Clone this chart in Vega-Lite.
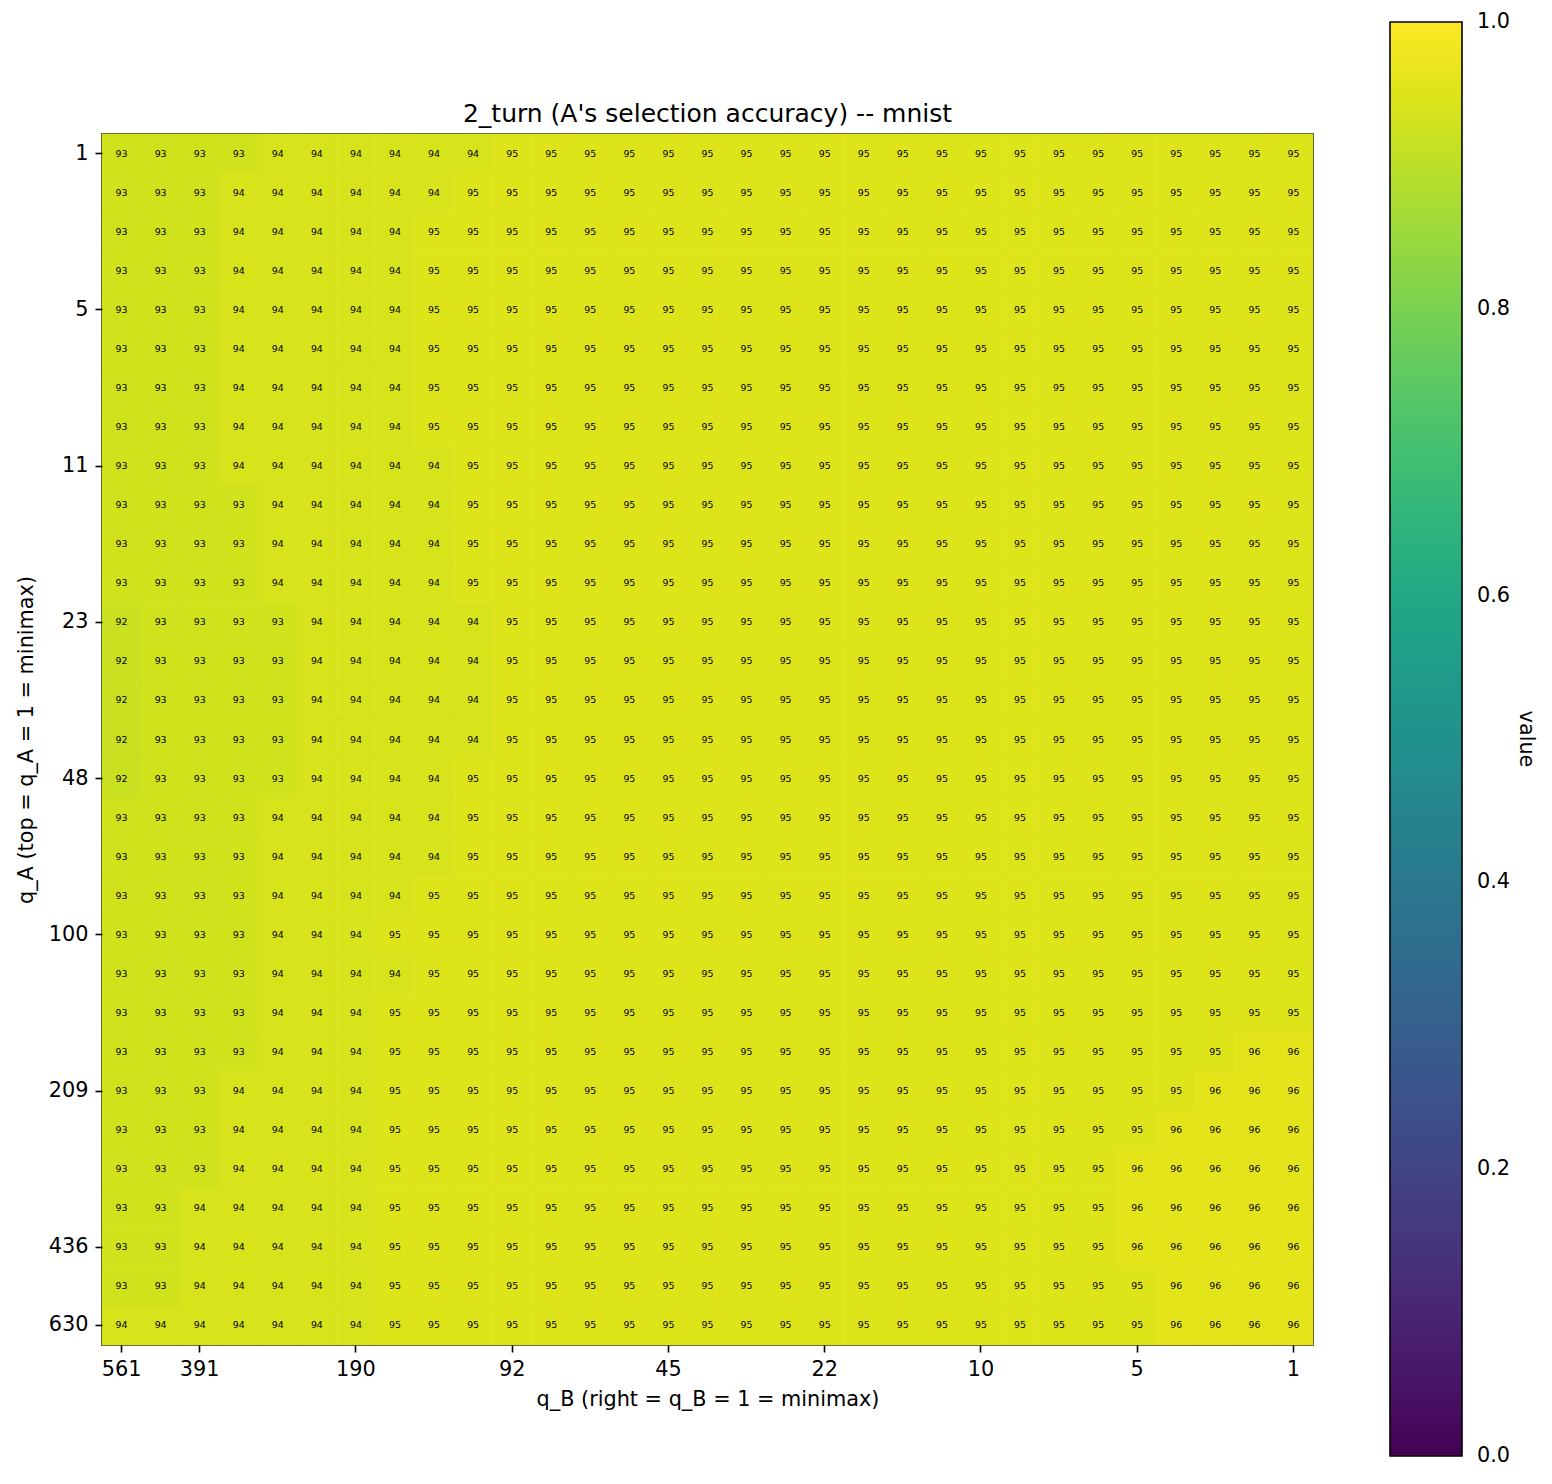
{
"$schema": "https://vega.github.io/schema/vega-lite/v6.json",
"autosize": {"type": "none"},
"padding": {"left": 102, "top": 134, "right": 239, "bottom": 139},
"width": 1211,
"height": 1211,
"background": "white",
"title": {"text": "2_turn (A's selection accuracy) -- mnist", "fontSize": 25, "fontWeight": "normal", "font": "DejaVu Sans", "color": "black", "offset": -105, "anchor": "middle", "frame": "group"},
"config": {
  "font": "DejaVu Sans",
  "view": {"stroke": "black", "strokeWidth": 1.6},
  "axis": {"domain": false, "tickColor": "black", "tickSize": 7, "tickWidth": 1.6, "labelFontSize": 20.8, "labelColor": "black", "labelFont": "DejaVu Sans", "titleFont": "DejaVu Sans", "titleFontSize": 20.8, "titleFontWeight": "normal", "titleColor": "black", "grid": false, "labelAngle": 0}
},
"data": {"values": [
{"row":0,"col":0,"acc":93},{"row":0,"col":1,"acc":93},{"row":0,"col":2,"acc":93},{"row":0,"col":3,"acc":93},{"row":0,"col":4,"acc":94},{"row":0,"col":5,"acc":94},{"row":0,"col":6,"acc":94},{"row":0,"col":7,"acc":94},{"row":0,"col":8,"acc":94},{"row":0,"col":9,"acc":94},{"row":0,"col":10,"acc":95},{"row":0,"col":11,"acc":95},{"row":0,"col":12,"acc":95},{"row":0,"col":13,"acc":95},{"row":0,"col":14,"acc":95},{"row":0,"col":15,"acc":95},{"row":0,"col":16,"acc":95},{"row":0,"col":17,"acc":95},{"row":0,"col":18,"acc":95},{"row":0,"col":19,"acc":95},{"row":0,"col":20,"acc":95},{"row":0,"col":21,"acc":95},{"row":0,"col":22,"acc":95},{"row":0,"col":23,"acc":95},{"row":0,"col":24,"acc":95},{"row":0,"col":25,"acc":95},{"row":0,"col":26,"acc":95},{"row":0,"col":27,"acc":95},{"row":0,"col":28,"acc":95},{"row":0,"col":29,"acc":95},{"row":0,"col":30,"acc":95},
{"row":1,"col":0,"acc":93},{"row":1,"col":1,"acc":93},{"row":1,"col":2,"acc":93},{"row":1,"col":3,"acc":94},{"row":1,"col":4,"acc":94},{"row":1,"col":5,"acc":94},{"row":1,"col":6,"acc":94},{"row":1,"col":7,"acc":94},{"row":1,"col":8,"acc":94},{"row":1,"col":9,"acc":95},{"row":1,"col":10,"acc":95},{"row":1,"col":11,"acc":95},{"row":1,"col":12,"acc":95},{"row":1,"col":13,"acc":95},{"row":1,"col":14,"acc":95},{"row":1,"col":15,"acc":95},{"row":1,"col":16,"acc":95},{"row":1,"col":17,"acc":95},{"row":1,"col":18,"acc":95},{"row":1,"col":19,"acc":95},{"row":1,"col":20,"acc":95},{"row":1,"col":21,"acc":95},{"row":1,"col":22,"acc":95},{"row":1,"col":23,"acc":95},{"row":1,"col":24,"acc":95},{"row":1,"col":25,"acc":95},{"row":1,"col":26,"acc":95},{"row":1,"col":27,"acc":95},{"row":1,"col":28,"acc":95},{"row":1,"col":29,"acc":95},{"row":1,"col":30,"acc":95},
{"row":2,"col":0,"acc":93},{"row":2,"col":1,"acc":93},{"row":2,"col":2,"acc":93},{"row":2,"col":3,"acc":94},{"row":2,"col":4,"acc":94},{"row":2,"col":5,"acc":94},{"row":2,"col":6,"acc":94},{"row":2,"col":7,"acc":94},{"row":2,"col":8,"acc":95},{"row":2,"col":9,"acc":95},{"row":2,"col":10,"acc":95},{"row":2,"col":11,"acc":95},{"row":2,"col":12,"acc":95},{"row":2,"col":13,"acc":95},{"row":2,"col":14,"acc":95},{"row":2,"col":15,"acc":95},{"row":2,"col":16,"acc":95},{"row":2,"col":17,"acc":95},{"row":2,"col":18,"acc":95},{"row":2,"col":19,"acc":95},{"row":2,"col":20,"acc":95},{"row":2,"col":21,"acc":95},{"row":2,"col":22,"acc":95},{"row":2,"col":23,"acc":95},{"row":2,"col":24,"acc":95},{"row":2,"col":25,"acc":95},{"row":2,"col":26,"acc":95},{"row":2,"col":27,"acc":95},{"row":2,"col":28,"acc":95},{"row":2,"col":29,"acc":95},{"row":2,"col":30,"acc":95},
{"row":3,"col":0,"acc":93},{"row":3,"col":1,"acc":93},{"row":3,"col":2,"acc":93},{"row":3,"col":3,"acc":94},{"row":3,"col":4,"acc":94},{"row":3,"col":5,"acc":94},{"row":3,"col":6,"acc":94},{"row":3,"col":7,"acc":94},{"row":3,"col":8,"acc":95},{"row":3,"col":9,"acc":95},{"row":3,"col":10,"acc":95},{"row":3,"col":11,"acc":95},{"row":3,"col":12,"acc":95},{"row":3,"col":13,"acc":95},{"row":3,"col":14,"acc":95},{"row":3,"col":15,"acc":95},{"row":3,"col":16,"acc":95},{"row":3,"col":17,"acc":95},{"row":3,"col":18,"acc":95},{"row":3,"col":19,"acc":95},{"row":3,"col":20,"acc":95},{"row":3,"col":21,"acc":95},{"row":3,"col":22,"acc":95},{"row":3,"col":23,"acc":95},{"row":3,"col":24,"acc":95},{"row":3,"col":25,"acc":95},{"row":3,"col":26,"acc":95},{"row":3,"col":27,"acc":95},{"row":3,"col":28,"acc":95},{"row":3,"col":29,"acc":95},{"row":3,"col":30,"acc":95},
{"row":4,"col":0,"acc":93},{"row":4,"col":1,"acc":93},{"row":4,"col":2,"acc":93},{"row":4,"col":3,"acc":94},{"row":4,"col":4,"acc":94},{"row":4,"col":5,"acc":94},{"row":4,"col":6,"acc":94},{"row":4,"col":7,"acc":94},{"row":4,"col":8,"acc":95},{"row":4,"col":9,"acc":95},{"row":4,"col":10,"acc":95},{"row":4,"col":11,"acc":95},{"row":4,"col":12,"acc":95},{"row":4,"col":13,"acc":95},{"row":4,"col":14,"acc":95},{"row":4,"col":15,"acc":95},{"row":4,"col":16,"acc":95},{"row":4,"col":17,"acc":95},{"row":4,"col":18,"acc":95},{"row":4,"col":19,"acc":95},{"row":4,"col":20,"acc":95},{"row":4,"col":21,"acc":95},{"row":4,"col":22,"acc":95},{"row":4,"col":23,"acc":95},{"row":4,"col":24,"acc":95},{"row":4,"col":25,"acc":95},{"row":4,"col":26,"acc":95},{"row":4,"col":27,"acc":95},{"row":4,"col":28,"acc":95},{"row":4,"col":29,"acc":95},{"row":4,"col":30,"acc":95},
{"row":5,"col":0,"acc":93},{"row":5,"col":1,"acc":93},{"row":5,"col":2,"acc":93},{"row":5,"col":3,"acc":94},{"row":5,"col":4,"acc":94},{"row":5,"col":5,"acc":94},{"row":5,"col":6,"acc":94},{"row":5,"col":7,"acc":94},{"row":5,"col":8,"acc":95},{"row":5,"col":9,"acc":95},{"row":5,"col":10,"acc":95},{"row":5,"col":11,"acc":95},{"row":5,"col":12,"acc":95},{"row":5,"col":13,"acc":95},{"row":5,"col":14,"acc":95},{"row":5,"col":15,"acc":95},{"row":5,"col":16,"acc":95},{"row":5,"col":17,"acc":95},{"row":5,"col":18,"acc":95},{"row":5,"col":19,"acc":95},{"row":5,"col":20,"acc":95},{"row":5,"col":21,"acc":95},{"row":5,"col":22,"acc":95},{"row":5,"col":23,"acc":95},{"row":5,"col":24,"acc":95},{"row":5,"col":25,"acc":95},{"row":5,"col":26,"acc":95},{"row":5,"col":27,"acc":95},{"row":5,"col":28,"acc":95},{"row":5,"col":29,"acc":95},{"row":5,"col":30,"acc":95},
{"row":6,"col":0,"acc":93},{"row":6,"col":1,"acc":93},{"row":6,"col":2,"acc":93},{"row":6,"col":3,"acc":94},{"row":6,"col":4,"acc":94},{"row":6,"col":5,"acc":94},{"row":6,"col":6,"acc":94},{"row":6,"col":7,"acc":94},{"row":6,"col":8,"acc":95},{"row":6,"col":9,"acc":95},{"row":6,"col":10,"acc":95},{"row":6,"col":11,"acc":95},{"row":6,"col":12,"acc":95},{"row":6,"col":13,"acc":95},{"row":6,"col":14,"acc":95},{"row":6,"col":15,"acc":95},{"row":6,"col":16,"acc":95},{"row":6,"col":17,"acc":95},{"row":6,"col":18,"acc":95},{"row":6,"col":19,"acc":95},{"row":6,"col":20,"acc":95},{"row":6,"col":21,"acc":95},{"row":6,"col":22,"acc":95},{"row":6,"col":23,"acc":95},{"row":6,"col":24,"acc":95},{"row":6,"col":25,"acc":95},{"row":6,"col":26,"acc":95},{"row":6,"col":27,"acc":95},{"row":6,"col":28,"acc":95},{"row":6,"col":29,"acc":95},{"row":6,"col":30,"acc":95},
{"row":7,"col":0,"acc":93},{"row":7,"col":1,"acc":93},{"row":7,"col":2,"acc":93},{"row":7,"col":3,"acc":94},{"row":7,"col":4,"acc":94},{"row":7,"col":5,"acc":94},{"row":7,"col":6,"acc":94},{"row":7,"col":7,"acc":94},{"row":7,"col":8,"acc":95},{"row":7,"col":9,"acc":95},{"row":7,"col":10,"acc":95},{"row":7,"col":11,"acc":95},{"row":7,"col":12,"acc":95},{"row":7,"col":13,"acc":95},{"row":7,"col":14,"acc":95},{"row":7,"col":15,"acc":95},{"row":7,"col":16,"acc":95},{"row":7,"col":17,"acc":95},{"row":7,"col":18,"acc":95},{"row":7,"col":19,"acc":95},{"row":7,"col":20,"acc":95},{"row":7,"col":21,"acc":95},{"row":7,"col":22,"acc":95},{"row":7,"col":23,"acc":95},{"row":7,"col":24,"acc":95},{"row":7,"col":25,"acc":95},{"row":7,"col":26,"acc":95},{"row":7,"col":27,"acc":95},{"row":7,"col":28,"acc":95},{"row":7,"col":29,"acc":95},{"row":7,"col":30,"acc":95},
{"row":8,"col":0,"acc":93},{"row":8,"col":1,"acc":93},{"row":8,"col":2,"acc":93},{"row":8,"col":3,"acc":94},{"row":8,"col":4,"acc":94},{"row":8,"col":5,"acc":94},{"row":8,"col":6,"acc":94},{"row":8,"col":7,"acc":94},{"row":8,"col":8,"acc":94},{"row":8,"col":9,"acc":95},{"row":8,"col":10,"acc":95},{"row":8,"col":11,"acc":95},{"row":8,"col":12,"acc":95},{"row":8,"col":13,"acc":95},{"row":8,"col":14,"acc":95},{"row":8,"col":15,"acc":95},{"row":8,"col":16,"acc":95},{"row":8,"col":17,"acc":95},{"row":8,"col":18,"acc":95},{"row":8,"col":19,"acc":95},{"row":8,"col":20,"acc":95},{"row":8,"col":21,"acc":95},{"row":8,"col":22,"acc":95},{"row":8,"col":23,"acc":95},{"row":8,"col":24,"acc":95},{"row":8,"col":25,"acc":95},{"row":8,"col":26,"acc":95},{"row":8,"col":27,"acc":95},{"row":8,"col":28,"acc":95},{"row":8,"col":29,"acc":95},{"row":8,"col":30,"acc":95},
{"row":9,"col":0,"acc":93},{"row":9,"col":1,"acc":93},{"row":9,"col":2,"acc":93},{"row":9,"col":3,"acc":93},{"row":9,"col":4,"acc":94},{"row":9,"col":5,"acc":94},{"row":9,"col":6,"acc":94},{"row":9,"col":7,"acc":94},{"row":9,"col":8,"acc":94},{"row":9,"col":9,"acc":95},{"row":9,"col":10,"acc":95},{"row":9,"col":11,"acc":95},{"row":9,"col":12,"acc":95},{"row":9,"col":13,"acc":95},{"row":9,"col":14,"acc":95},{"row":9,"col":15,"acc":95},{"row":9,"col":16,"acc":95},{"row":9,"col":17,"acc":95},{"row":9,"col":18,"acc":95},{"row":9,"col":19,"acc":95},{"row":9,"col":20,"acc":95},{"row":9,"col":21,"acc":95},{"row":9,"col":22,"acc":95},{"row":9,"col":23,"acc":95},{"row":9,"col":24,"acc":95},{"row":9,"col":25,"acc":95},{"row":9,"col":26,"acc":95},{"row":9,"col":27,"acc":95},{"row":9,"col":28,"acc":95},{"row":9,"col":29,"acc":95},{"row":9,"col":30,"acc":95},
{"row":10,"col":0,"acc":93},{"row":10,"col":1,"acc":93},{"row":10,"col":2,"acc":93},{"row":10,"col":3,"acc":93},{"row":10,"col":4,"acc":94},{"row":10,"col":5,"acc":94},{"row":10,"col":6,"acc":94},{"row":10,"col":7,"acc":94},{"row":10,"col":8,"acc":94},{"row":10,"col":9,"acc":95},{"row":10,"col":10,"acc":95},{"row":10,"col":11,"acc":95},{"row":10,"col":12,"acc":95},{"row":10,"col":13,"acc":95},{"row":10,"col":14,"acc":95},{"row":10,"col":15,"acc":95},{"row":10,"col":16,"acc":95},{"row":10,"col":17,"acc":95},{"row":10,"col":18,"acc":95},{"row":10,"col":19,"acc":95},{"row":10,"col":20,"acc":95},{"row":10,"col":21,"acc":95},{"row":10,"col":22,"acc":95},{"row":10,"col":23,"acc":95},{"row":10,"col":24,"acc":95},{"row":10,"col":25,"acc":95},{"row":10,"col":26,"acc":95},{"row":10,"col":27,"acc":95},{"row":10,"col":28,"acc":95},{"row":10,"col":29,"acc":95},{"row":10,"col":30,"acc":95},
{"row":11,"col":0,"acc":93},{"row":11,"col":1,"acc":93},{"row":11,"col":2,"acc":93},{"row":11,"col":3,"acc":93},{"row":11,"col":4,"acc":94},{"row":11,"col":5,"acc":94},{"row":11,"col":6,"acc":94},{"row":11,"col":7,"acc":94},{"row":11,"col":8,"acc":94},{"row":11,"col":9,"acc":95},{"row":11,"col":10,"acc":95},{"row":11,"col":11,"acc":95},{"row":11,"col":12,"acc":95},{"row":11,"col":13,"acc":95},{"row":11,"col":14,"acc":95},{"row":11,"col":15,"acc":95},{"row":11,"col":16,"acc":95},{"row":11,"col":17,"acc":95},{"row":11,"col":18,"acc":95},{"row":11,"col":19,"acc":95},{"row":11,"col":20,"acc":95},{"row":11,"col":21,"acc":95},{"row":11,"col":22,"acc":95},{"row":11,"col":23,"acc":95},{"row":11,"col":24,"acc":95},{"row":11,"col":25,"acc":95},{"row":11,"col":26,"acc":95},{"row":11,"col":27,"acc":95},{"row":11,"col":28,"acc":95},{"row":11,"col":29,"acc":95},{"row":11,"col":30,"acc":95},
{"row":12,"col":0,"acc":92},{"row":12,"col":1,"acc":93},{"row":12,"col":2,"acc":93},{"row":12,"col":3,"acc":93},{"row":12,"col":4,"acc":93},{"row":12,"col":5,"acc":94},{"row":12,"col":6,"acc":94},{"row":12,"col":7,"acc":94},{"row":12,"col":8,"acc":94},{"row":12,"col":9,"acc":94},{"row":12,"col":10,"acc":95},{"row":12,"col":11,"acc":95},{"row":12,"col":12,"acc":95},{"row":12,"col":13,"acc":95},{"row":12,"col":14,"acc":95},{"row":12,"col":15,"acc":95},{"row":12,"col":16,"acc":95},{"row":12,"col":17,"acc":95},{"row":12,"col":18,"acc":95},{"row":12,"col":19,"acc":95},{"row":12,"col":20,"acc":95},{"row":12,"col":21,"acc":95},{"row":12,"col":22,"acc":95},{"row":12,"col":23,"acc":95},{"row":12,"col":24,"acc":95},{"row":12,"col":25,"acc":95},{"row":12,"col":26,"acc":95},{"row":12,"col":27,"acc":95},{"row":12,"col":28,"acc":95},{"row":12,"col":29,"acc":95},{"row":12,"col":30,"acc":95},
{"row":13,"col":0,"acc":92},{"row":13,"col":1,"acc":93},{"row":13,"col":2,"acc":93},{"row":13,"col":3,"acc":93},{"row":13,"col":4,"acc":93},{"row":13,"col":5,"acc":94},{"row":13,"col":6,"acc":94},{"row":13,"col":7,"acc":94},{"row":13,"col":8,"acc":94},{"row":13,"col":9,"acc":94},{"row":13,"col":10,"acc":95},{"row":13,"col":11,"acc":95},{"row":13,"col":12,"acc":95},{"row":13,"col":13,"acc":95},{"row":13,"col":14,"acc":95},{"row":13,"col":15,"acc":95},{"row":13,"col":16,"acc":95},{"row":13,"col":17,"acc":95},{"row":13,"col":18,"acc":95},{"row":13,"col":19,"acc":95},{"row":13,"col":20,"acc":95},{"row":13,"col":21,"acc":95},{"row":13,"col":22,"acc":95},{"row":13,"col":23,"acc":95},{"row":13,"col":24,"acc":95},{"row":13,"col":25,"acc":95},{"row":13,"col":26,"acc":95},{"row":13,"col":27,"acc":95},{"row":13,"col":28,"acc":95},{"row":13,"col":29,"acc":95},{"row":13,"col":30,"acc":95},
{"row":14,"col":0,"acc":92},{"row":14,"col":1,"acc":93},{"row":14,"col":2,"acc":93},{"row":14,"col":3,"acc":93},{"row":14,"col":4,"acc":93},{"row":14,"col":5,"acc":94},{"row":14,"col":6,"acc":94},{"row":14,"col":7,"acc":94},{"row":14,"col":8,"acc":94},{"row":14,"col":9,"acc":94},{"row":14,"col":10,"acc":95},{"row":14,"col":11,"acc":95},{"row":14,"col":12,"acc":95},{"row":14,"col":13,"acc":95},{"row":14,"col":14,"acc":95},{"row":14,"col":15,"acc":95},{"row":14,"col":16,"acc":95},{"row":14,"col":17,"acc":95},{"row":14,"col":18,"acc":95},{"row":14,"col":19,"acc":95},{"row":14,"col":20,"acc":95},{"row":14,"col":21,"acc":95},{"row":14,"col":22,"acc":95},{"row":14,"col":23,"acc":95},{"row":14,"col":24,"acc":95},{"row":14,"col":25,"acc":95},{"row":14,"col":26,"acc":95},{"row":14,"col":27,"acc":95},{"row":14,"col":28,"acc":95},{"row":14,"col":29,"acc":95},{"row":14,"col":30,"acc":95},
{"row":15,"col":0,"acc":92},{"row":15,"col":1,"acc":93},{"row":15,"col":2,"acc":93},{"row":15,"col":3,"acc":93},{"row":15,"col":4,"acc":93},{"row":15,"col":5,"acc":94},{"row":15,"col":6,"acc":94},{"row":15,"col":7,"acc":94},{"row":15,"col":8,"acc":94},{"row":15,"col":9,"acc":94},{"row":15,"col":10,"acc":95},{"row":15,"col":11,"acc":95},{"row":15,"col":12,"acc":95},{"row":15,"col":13,"acc":95},{"row":15,"col":14,"acc":95},{"row":15,"col":15,"acc":95},{"row":15,"col":16,"acc":95},{"row":15,"col":17,"acc":95},{"row":15,"col":18,"acc":95},{"row":15,"col":19,"acc":95},{"row":15,"col":20,"acc":95},{"row":15,"col":21,"acc":95},{"row":15,"col":22,"acc":95},{"row":15,"col":23,"acc":95},{"row":15,"col":24,"acc":95},{"row":15,"col":25,"acc":95},{"row":15,"col":26,"acc":95},{"row":15,"col":27,"acc":95},{"row":15,"col":28,"acc":95},{"row":15,"col":29,"acc":95},{"row":15,"col":30,"acc":95},
{"row":16,"col":0,"acc":92},{"row":16,"col":1,"acc":93},{"row":16,"col":2,"acc":93},{"row":16,"col":3,"acc":93},{"row":16,"col":4,"acc":93},{"row":16,"col":5,"acc":94},{"row":16,"col":6,"acc":94},{"row":16,"col":7,"acc":94},{"row":16,"col":8,"acc":94},{"row":16,"col":9,"acc":95},{"row":16,"col":10,"acc":95},{"row":16,"col":11,"acc":95},{"row":16,"col":12,"acc":95},{"row":16,"col":13,"acc":95},{"row":16,"col":14,"acc":95},{"row":16,"col":15,"acc":95},{"row":16,"col":16,"acc":95},{"row":16,"col":17,"acc":95},{"row":16,"col":18,"acc":95},{"row":16,"col":19,"acc":95},{"row":16,"col":20,"acc":95},{"row":16,"col":21,"acc":95},{"row":16,"col":22,"acc":95},{"row":16,"col":23,"acc":95},{"row":16,"col":24,"acc":95},{"row":16,"col":25,"acc":95},{"row":16,"col":26,"acc":95},{"row":16,"col":27,"acc":95},{"row":16,"col":28,"acc":95},{"row":16,"col":29,"acc":95},{"row":16,"col":30,"acc":95},
{"row":17,"col":0,"acc":93},{"row":17,"col":1,"acc":93},{"row":17,"col":2,"acc":93},{"row":17,"col":3,"acc":93},{"row":17,"col":4,"acc":94},{"row":17,"col":5,"acc":94},{"row":17,"col":6,"acc":94},{"row":17,"col":7,"acc":94},{"row":17,"col":8,"acc":94},{"row":17,"col":9,"acc":95},{"row":17,"col":10,"acc":95},{"row":17,"col":11,"acc":95},{"row":17,"col":12,"acc":95},{"row":17,"col":13,"acc":95},{"row":17,"col":14,"acc":95},{"row":17,"col":15,"acc":95},{"row":17,"col":16,"acc":95},{"row":17,"col":17,"acc":95},{"row":17,"col":18,"acc":95},{"row":17,"col":19,"acc":95},{"row":17,"col":20,"acc":95},{"row":17,"col":21,"acc":95},{"row":17,"col":22,"acc":95},{"row":17,"col":23,"acc":95},{"row":17,"col":24,"acc":95},{"row":17,"col":25,"acc":95},{"row":17,"col":26,"acc":95},{"row":17,"col":27,"acc":95},{"row":17,"col":28,"acc":95},{"row":17,"col":29,"acc":95},{"row":17,"col":30,"acc":95},
{"row":18,"col":0,"acc":93},{"row":18,"col":1,"acc":93},{"row":18,"col":2,"acc":93},{"row":18,"col":3,"acc":93},{"row":18,"col":4,"acc":94},{"row":18,"col":5,"acc":94},{"row":18,"col":6,"acc":94},{"row":18,"col":7,"acc":94},{"row":18,"col":8,"acc":94},{"row":18,"col":9,"acc":95},{"row":18,"col":10,"acc":95},{"row":18,"col":11,"acc":95},{"row":18,"col":12,"acc":95},{"row":18,"col":13,"acc":95},{"row":18,"col":14,"acc":95},{"row":18,"col":15,"acc":95},{"row":18,"col":16,"acc":95},{"row":18,"col":17,"acc":95},{"row":18,"col":18,"acc":95},{"row":18,"col":19,"acc":95},{"row":18,"col":20,"acc":95},{"row":18,"col":21,"acc":95},{"row":18,"col":22,"acc":95},{"row":18,"col":23,"acc":95},{"row":18,"col":24,"acc":95},{"row":18,"col":25,"acc":95},{"row":18,"col":26,"acc":95},{"row":18,"col":27,"acc":95},{"row":18,"col":28,"acc":95},{"row":18,"col":29,"acc":95},{"row":18,"col":30,"acc":95},
{"row":19,"col":0,"acc":93},{"row":19,"col":1,"acc":93},{"row":19,"col":2,"acc":93},{"row":19,"col":3,"acc":93},{"row":19,"col":4,"acc":94},{"row":19,"col":5,"acc":94},{"row":19,"col":6,"acc":94},{"row":19,"col":7,"acc":94},{"row":19,"col":8,"acc":95},{"row":19,"col":9,"acc":95},{"row":19,"col":10,"acc":95},{"row":19,"col":11,"acc":95},{"row":19,"col":12,"acc":95},{"row":19,"col":13,"acc":95},{"row":19,"col":14,"acc":95},{"row":19,"col":15,"acc":95},{"row":19,"col":16,"acc":95},{"row":19,"col":17,"acc":95},{"row":19,"col":18,"acc":95},{"row":19,"col":19,"acc":95},{"row":19,"col":20,"acc":95},{"row":19,"col":21,"acc":95},{"row":19,"col":22,"acc":95},{"row":19,"col":23,"acc":95},{"row":19,"col":24,"acc":95},{"row":19,"col":25,"acc":95},{"row":19,"col":26,"acc":95},{"row":19,"col":27,"acc":95},{"row":19,"col":28,"acc":95},{"row":19,"col":29,"acc":95},{"row":19,"col":30,"acc":95},
{"row":20,"col":0,"acc":93},{"row":20,"col":1,"acc":93},{"row":20,"col":2,"acc":93},{"row":20,"col":3,"acc":93},{"row":20,"col":4,"acc":94},{"row":20,"col":5,"acc":94},{"row":20,"col":6,"acc":94},{"row":20,"col":7,"acc":95},{"row":20,"col":8,"acc":95},{"row":20,"col":9,"acc":95},{"row":20,"col":10,"acc":95},{"row":20,"col":11,"acc":95},{"row":20,"col":12,"acc":95},{"row":20,"col":13,"acc":95},{"row":20,"col":14,"acc":95},{"row":20,"col":15,"acc":95},{"row":20,"col":16,"acc":95},{"row":20,"col":17,"acc":95},{"row":20,"col":18,"acc":95},{"row":20,"col":19,"acc":95},{"row":20,"col":20,"acc":95},{"row":20,"col":21,"acc":95},{"row":20,"col":22,"acc":95},{"row":20,"col":23,"acc":95},{"row":20,"col":24,"acc":95},{"row":20,"col":25,"acc":95},{"row":20,"col":26,"acc":95},{"row":20,"col":27,"acc":95},{"row":20,"col":28,"acc":95},{"row":20,"col":29,"acc":95},{"row":20,"col":30,"acc":95},
{"row":21,"col":0,"acc":93},{"row":21,"col":1,"acc":93},{"row":21,"col":2,"acc":93},{"row":21,"col":3,"acc":93},{"row":21,"col":4,"acc":94},{"row":21,"col":5,"acc":94},{"row":21,"col":6,"acc":94},{"row":21,"col":7,"acc":94},{"row":21,"col":8,"acc":95},{"row":21,"col":9,"acc":95},{"row":21,"col":10,"acc":95},{"row":21,"col":11,"acc":95},{"row":21,"col":12,"acc":95},{"row":21,"col":13,"acc":95},{"row":21,"col":14,"acc":95},{"row":21,"col":15,"acc":95},{"row":21,"col":16,"acc":95},{"row":21,"col":17,"acc":95},{"row":21,"col":18,"acc":95},{"row":21,"col":19,"acc":95},{"row":21,"col":20,"acc":95},{"row":21,"col":21,"acc":95},{"row":21,"col":22,"acc":95},{"row":21,"col":23,"acc":95},{"row":21,"col":24,"acc":95},{"row":21,"col":25,"acc":95},{"row":21,"col":26,"acc":95},{"row":21,"col":27,"acc":95},{"row":21,"col":28,"acc":95},{"row":21,"col":29,"acc":95},{"row":21,"col":30,"acc":95},
{"row":22,"col":0,"acc":93},{"row":22,"col":1,"acc":93},{"row":22,"col":2,"acc":93},{"row":22,"col":3,"acc":93},{"row":22,"col":4,"acc":94},{"row":22,"col":5,"acc":94},{"row":22,"col":6,"acc":94},{"row":22,"col":7,"acc":95},{"row":22,"col":8,"acc":95},{"row":22,"col":9,"acc":95},{"row":22,"col":10,"acc":95},{"row":22,"col":11,"acc":95},{"row":22,"col":12,"acc":95},{"row":22,"col":13,"acc":95},{"row":22,"col":14,"acc":95},{"row":22,"col":15,"acc":95},{"row":22,"col":16,"acc":95},{"row":22,"col":17,"acc":95},{"row":22,"col":18,"acc":95},{"row":22,"col":19,"acc":95},{"row":22,"col":20,"acc":95},{"row":22,"col":21,"acc":95},{"row":22,"col":22,"acc":95},{"row":22,"col":23,"acc":95},{"row":22,"col":24,"acc":95},{"row":22,"col":25,"acc":95},{"row":22,"col":26,"acc":95},{"row":22,"col":27,"acc":95},{"row":22,"col":28,"acc":95},{"row":22,"col":29,"acc":95},{"row":22,"col":30,"acc":95},
{"row":23,"col":0,"acc":93},{"row":23,"col":1,"acc":93},{"row":23,"col":2,"acc":93},{"row":23,"col":3,"acc":93},{"row":23,"col":4,"acc":94},{"row":23,"col":5,"acc":94},{"row":23,"col":6,"acc":94},{"row":23,"col":7,"acc":95},{"row":23,"col":8,"acc":95},{"row":23,"col":9,"acc":95},{"row":23,"col":10,"acc":95},{"row":23,"col":11,"acc":95},{"row":23,"col":12,"acc":95},{"row":23,"col":13,"acc":95},{"row":23,"col":14,"acc":95},{"row":23,"col":15,"acc":95},{"row":23,"col":16,"acc":95},{"row":23,"col":17,"acc":95},{"row":23,"col":18,"acc":95},{"row":23,"col":19,"acc":95},{"row":23,"col":20,"acc":95},{"row":23,"col":21,"acc":95},{"row":23,"col":22,"acc":95},{"row":23,"col":23,"acc":95},{"row":23,"col":24,"acc":95},{"row":23,"col":25,"acc":95},{"row":23,"col":26,"acc":95},{"row":23,"col":27,"acc":95},{"row":23,"col":28,"acc":95},{"row":23,"col":29,"acc":96},{"row":23,"col":30,"acc":96},
{"row":24,"col":0,"acc":93},{"row":24,"col":1,"acc":93},{"row":24,"col":2,"acc":93},{"row":24,"col":3,"acc":94},{"row":24,"col":4,"acc":94},{"row":24,"col":5,"acc":94},{"row":24,"col":6,"acc":94},{"row":24,"col":7,"acc":95},{"row":24,"col":8,"acc":95},{"row":24,"col":9,"acc":95},{"row":24,"col":10,"acc":95},{"row":24,"col":11,"acc":95},{"row":24,"col":12,"acc":95},{"row":24,"col":13,"acc":95},{"row":24,"col":14,"acc":95},{"row":24,"col":15,"acc":95},{"row":24,"col":16,"acc":95},{"row":24,"col":17,"acc":95},{"row":24,"col":18,"acc":95},{"row":24,"col":19,"acc":95},{"row":24,"col":20,"acc":95},{"row":24,"col":21,"acc":95},{"row":24,"col":22,"acc":95},{"row":24,"col":23,"acc":95},{"row":24,"col":24,"acc":95},{"row":24,"col":25,"acc":95},{"row":24,"col":26,"acc":95},{"row":24,"col":27,"acc":95},{"row":24,"col":28,"acc":96},{"row":24,"col":29,"acc":96},{"row":24,"col":30,"acc":96},
{"row":25,"col":0,"acc":93},{"row":25,"col":1,"acc":93},{"row":25,"col":2,"acc":93},{"row":25,"col":3,"acc":94},{"row":25,"col":4,"acc":94},{"row":25,"col":5,"acc":94},{"row":25,"col":6,"acc":94},{"row":25,"col":7,"acc":95},{"row":25,"col":8,"acc":95},{"row":25,"col":9,"acc":95},{"row":25,"col":10,"acc":95},{"row":25,"col":11,"acc":95},{"row":25,"col":12,"acc":95},{"row":25,"col":13,"acc":95},{"row":25,"col":14,"acc":95},{"row":25,"col":15,"acc":95},{"row":25,"col":16,"acc":95},{"row":25,"col":17,"acc":95},{"row":25,"col":18,"acc":95},{"row":25,"col":19,"acc":95},{"row":25,"col":20,"acc":95},{"row":25,"col":21,"acc":95},{"row":25,"col":22,"acc":95},{"row":25,"col":23,"acc":95},{"row":25,"col":24,"acc":95},{"row":25,"col":25,"acc":95},{"row":25,"col":26,"acc":95},{"row":25,"col":27,"acc":96},{"row":25,"col":28,"acc":96},{"row":25,"col":29,"acc":96},{"row":25,"col":30,"acc":96},
{"row":26,"col":0,"acc":93},{"row":26,"col":1,"acc":93},{"row":26,"col":2,"acc":93},{"row":26,"col":3,"acc":94},{"row":26,"col":4,"acc":94},{"row":26,"col":5,"acc":94},{"row":26,"col":6,"acc":94},{"row":26,"col":7,"acc":95},{"row":26,"col":8,"acc":95},{"row":26,"col":9,"acc":95},{"row":26,"col":10,"acc":95},{"row":26,"col":11,"acc":95},{"row":26,"col":12,"acc":95},{"row":26,"col":13,"acc":95},{"row":26,"col":14,"acc":95},{"row":26,"col":15,"acc":95},{"row":26,"col":16,"acc":95},{"row":26,"col":17,"acc":95},{"row":26,"col":18,"acc":95},{"row":26,"col":19,"acc":95},{"row":26,"col":20,"acc":95},{"row":26,"col":21,"acc":95},{"row":26,"col":22,"acc":95},{"row":26,"col":23,"acc":95},{"row":26,"col":24,"acc":95},{"row":26,"col":25,"acc":95},{"row":26,"col":26,"acc":96},{"row":26,"col":27,"acc":96},{"row":26,"col":28,"acc":96},{"row":26,"col":29,"acc":96},{"row":26,"col":30,"acc":96},
{"row":27,"col":0,"acc":93},{"row":27,"col":1,"acc":93},{"row":27,"col":2,"acc":94},{"row":27,"col":3,"acc":94},{"row":27,"col":4,"acc":94},{"row":27,"col":5,"acc":94},{"row":27,"col":6,"acc":94},{"row":27,"col":7,"acc":95},{"row":27,"col":8,"acc":95},{"row":27,"col":9,"acc":95},{"row":27,"col":10,"acc":95},{"row":27,"col":11,"acc":95},{"row":27,"col":12,"acc":95},{"row":27,"col":13,"acc":95},{"row":27,"col":14,"acc":95},{"row":27,"col":15,"acc":95},{"row":27,"col":16,"acc":95},{"row":27,"col":17,"acc":95},{"row":27,"col":18,"acc":95},{"row":27,"col":19,"acc":95},{"row":27,"col":20,"acc":95},{"row":27,"col":21,"acc":95},{"row":27,"col":22,"acc":95},{"row":27,"col":23,"acc":95},{"row":27,"col":24,"acc":95},{"row":27,"col":25,"acc":95},{"row":27,"col":26,"acc":96},{"row":27,"col":27,"acc":96},{"row":27,"col":28,"acc":96},{"row":27,"col":29,"acc":96},{"row":27,"col":30,"acc":96},
{"row":28,"col":0,"acc":93},{"row":28,"col":1,"acc":93},{"row":28,"col":2,"acc":94},{"row":28,"col":3,"acc":94},{"row":28,"col":4,"acc":94},{"row":28,"col":5,"acc":94},{"row":28,"col":6,"acc":94},{"row":28,"col":7,"acc":95},{"row":28,"col":8,"acc":95},{"row":28,"col":9,"acc":95},{"row":28,"col":10,"acc":95},{"row":28,"col":11,"acc":95},{"row":28,"col":12,"acc":95},{"row":28,"col":13,"acc":95},{"row":28,"col":14,"acc":95},{"row":28,"col":15,"acc":95},{"row":28,"col":16,"acc":95},{"row":28,"col":17,"acc":95},{"row":28,"col":18,"acc":95},{"row":28,"col":19,"acc":95},{"row":28,"col":20,"acc":95},{"row":28,"col":21,"acc":95},{"row":28,"col":22,"acc":95},{"row":28,"col":23,"acc":95},{"row":28,"col":24,"acc":95},{"row":28,"col":25,"acc":95},{"row":28,"col":26,"acc":96},{"row":28,"col":27,"acc":96},{"row":28,"col":28,"acc":96},{"row":28,"col":29,"acc":96},{"row":28,"col":30,"acc":96},
{"row":29,"col":0,"acc":93},{"row":29,"col":1,"acc":93},{"row":29,"col":2,"acc":94},{"row":29,"col":3,"acc":94},{"row":29,"col":4,"acc":94},{"row":29,"col":5,"acc":94},{"row":29,"col":6,"acc":94},{"row":29,"col":7,"acc":95},{"row":29,"col":8,"acc":95},{"row":29,"col":9,"acc":95},{"row":29,"col":10,"acc":95},{"row":29,"col":11,"acc":95},{"row":29,"col":12,"acc":95},{"row":29,"col":13,"acc":95},{"row":29,"col":14,"acc":95},{"row":29,"col":15,"acc":95},{"row":29,"col":16,"acc":95},{"row":29,"col":17,"acc":95},{"row":29,"col":18,"acc":95},{"row":29,"col":19,"acc":95},{"row":29,"col":20,"acc":95},{"row":29,"col":21,"acc":95},{"row":29,"col":22,"acc":95},{"row":29,"col":23,"acc":95},{"row":29,"col":24,"acc":95},{"row":29,"col":25,"acc":95},{"row":29,"col":26,"acc":95},{"row":29,"col":27,"acc":96},{"row":29,"col":28,"acc":96},{"row":29,"col":29,"acc":96},{"row":29,"col":30,"acc":96},
{"row":30,"col":0,"acc":94},{"row":30,"col":1,"acc":94},{"row":30,"col":2,"acc":94},{"row":30,"col":3,"acc":94},{"row":30,"col":4,"acc":94},{"row":30,"col":5,"acc":94},{"row":30,"col":6,"acc":94},{"row":30,"col":7,"acc":95},{"row":30,"col":8,"acc":95},{"row":30,"col":9,"acc":95},{"row":30,"col":10,"acc":95},{"row":30,"col":11,"acc":95},{"row":30,"col":12,"acc":95},{"row":30,"col":13,"acc":95},{"row":30,"col":14,"acc":95},{"row":30,"col":15,"acc":95},{"row":30,"col":16,"acc":95},{"row":30,"col":17,"acc":95},{"row":30,"col":18,"acc":95},{"row":30,"col":19,"acc":95},{"row":30,"col":20,"acc":95},{"row":30,"col":21,"acc":95},{"row":30,"col":22,"acc":95},{"row":30,"col":23,"acc":95},{"row":30,"col":24,"acc":95},{"row":30,"col":25,"acc":95},{"row":30,"col":26,"acc":95},{"row":30,"col":27,"acc":96},{"row":30,"col":28,"acc":96},{"row":30,"col":29,"acc":96},{"row":30,"col":30,"acc":96}
]},
"encoding": {
  "x": {"field": "col", "type": "ordinal", "sort": "ascending", "scale": {"paddingInner": 0, "paddingOuter": 0},
        "axis": {"values": [0,2,6,10,14,18,22,26,30], "labelExpr": "['561','','391','','','','190','','','','92','','','','45','','','','22','','','','10','','','','5','','','','1'][datum.value]", "title": "q_B (right = q_B = 1 = minimax)", "labelPadding": 7, "titlePadding": 11}},
  "y": {"field": "row", "type": "ordinal", "sort": "ascending", "scale": {"paddingInner": 0, "paddingOuter": 0},
        "axis": {"values": [0,4,8,12,16,20,24,28,30], "labelExpr": "['1','','','','5','','','','11','','','','23','','','','48','','','','100','','','','209','','','','436','','630'][datum.value]", "title": "q_A (top = q_A = 1 = minimax)", "labelPadding": 7, "titlePadding": 12}}
},
"layer": [
  {"mark": {"type": "rect", "strokeWidth": 0.6, "stroke": {"expr": "scale('color', datum.acc)"}},
   "encoding": {
     "color": {"field": "acc", "type": "quantitative", "scale": {"scheme": "viridis", "domain": [0, 100]},
       "legend": {"orient": "none", "legendX": 1288, "legendY": -112, "direction": "vertical", "gradientLength": 1434, "gradientThickness": 72, "gradientStrokeColor": "black", "gradientStrokeWidth": 1.6, "values": [0.01,20,40,60,80,99.99], "labelExpr": "format(datum.value/100, '.1f')", "labelFontSize": 20.8, "labelColor": "black", "labelFont": "DejaVu Sans", "labelOffset": 15, "labelOverlap": false, "title": "value", "titleOrient": "right", "titleAngle": 270, "titleAnchor": "middle", "titleFontSize": 20.8, "titleFontWeight": "normal", "titleColor": "black", "titleFont": "DejaVu Sans", "titlePadding": 6}}}},
  {"mark": {"type": "text", "fontSize": 9.4, "color": "black", "font": "DejaVu Sans"},
   "encoding": {"text": {"field": "acc", "type": "quantitative"}}}
]
}
